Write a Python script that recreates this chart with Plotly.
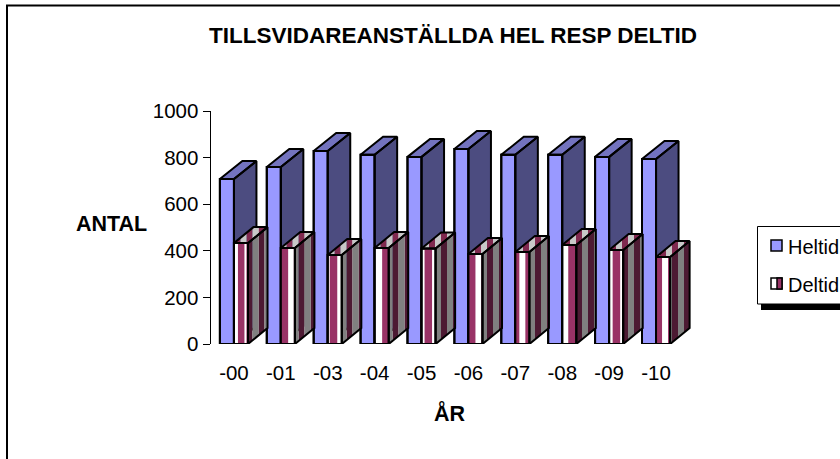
import plotly.graph_objects as go

YEARS = ["-00", "-01", "-03", "-04", "-05", "-06", "-07", "-08", "-09", "-10"]
HELTID = [708, 760, 828, 812, 803, 837, 812, 812, 803, 794]
DELTID = [433, 412, 382, 412, 410, 386, 395, 425, 403, 373]
TITLE = "TILLSVIDAREANSTÄLLDA HEL RESP DELTID"
Y_TITLE = "ANTAL"
X_TITLE = "ÅR"
Y_TICKS = [0, 200, 400, 600, 800, 1000]
SERIES_NAMES = ["Heltid", "Deltid"]

# page geometry (pixels)
W, H = 840, 459
AX_L, AX_R, AX_T, AX_B = 210.5, 679.5, 111, 344
UX = AX_R - AX_L
STEP = UX / 10
UY = (AX_B - AX_T) / 1000
px = lambda p: p / STEP          # px -> category units
py = lambda p: p / UY            # px -> value units
fx = lambda p: p / W
fy = lambda p: 1 - p / H

BAR_W = 0.3
H_DX, H_DY = px(22.5), py(18)
D_DX, D_DY = px(19.5), py(16)

# striping of the Deltid pattern, per bar, in pixels relative to the bar's left edge
FRONT_PURPLE = [[(4, 10.5), (12.5, 14)], [(0, 7.3), (13, 14)], [(2, 9.5)], [(7.5, 14)], [(3, 10.5)],
                [(0, 7), (13, 14)], [(0, 4), (10, 14)], [(6, 13)], [(3.5, 11)], [(0, 6), (12, 14)]]
# x pixel at which a dark stripe starts on the depth faces
SIDE_START = [246.5, 298.5, 346.5, 392.5, 441, 487, 535, 576, 622, 672]
SIDE_PERIOD, SIDE_BAND = 12, 6


def join(polys):
    xs, ys = [], []
    for p in polys:
        xs += [a for a, _ in p] + [p[0][0], None]
        ys += [b for _, b in p] + [p[0][1], None]
    return xs, ys


def fill(polys, color, xa, ya):
    xs, ys = join(polys)
    return go.Scatter(x=xs, y=ys, mode="lines", fill="toself", fillcolor=color, line=dict(width=0),
                      hoverinfo="skip", showlegend=False, cliponaxis=False, xaxis=xa, yaxis=ya)


def outline(polys, xa, ya, w=2):
    xs, ys = join(polys)
    return go.Scatter(x=xs, y=ys, mode="lines", line=dict(color="#000000", width=w),
                      hoverinfo="skip", showlegend=False, cliponaxis=False, xaxis=xa, yaxis=ya)


def faces(i, v, left, right, dx, dy):
    side = [(right, 0), (right + dx, dy), (right + dx, v + dy), (right, v)]
    top = [(left, v), (right, v), (right + dx, v + dy), (left + dx, v + dy)]
    front = [(left, 0), (right, 0), (right, v), (left, v)]
    return front, side, top


def top_strip(a, b, v, left, right, dx, dy):
    lo = lambda x: v if x <= right else v + dy * (x - right) / dx
    hi = lambda x: v + dy * (x - left) / dx if x <= left + dx else v + dy
    cuts = sorted({a, b} | {c for c in (right, left + dx) if a < c < b})
    return [(x, lo(x)) for x in cuts] + [(x, hi(x)) for x in reversed(cuts)]


def side_strip(a, b, v, right, dx, dy):
    return [(a, dy * (a - right) / dx), (b, dy * (b - right) / dx),
            (b, v + dy * (b - right) / dx), (a, v + dy * (a - right) / dx)]


xs_cat = list(range(len(YEARS)))
fig = go.Figure()

# Heltid
fig.add_trace(go.Bar(x=xs_cat, y=HELTID, width=BAR_W, offset=-BAR_W, name=SERIES_NAMES[0],
                     marker=dict(color="#9999FF", line=dict(color="#000000", width=2)),
                     xaxis="x", yaxis="y", showlegend=False))
h_sides, h_tops, h_all = [], [], []
for i, v in enumerate(HELTID):
    f, s, t = faces(i, v, i - BAR_W, i, H_DX, H_DY)
    h_sides.append(s)
    h_tops.append(t)
    h_all += [f, s, t]
fig.add_trace(fill(h_sides, "#4C4C80", "x", "y"))
fig.add_trace(fill(h_tops, "#7373BF", "x", "y"))
fig.add_trace(outline(h_all, "x", "y"))

# Deltid
fig.add_trace(go.Bar(x=xs_cat, y=DELTID, width=BAR_W, offset=0, name=SERIES_NAMES[1],
                     marker=dict(color="#FFFFFF", line=dict(color="#000000", width=2)),
                     xaxis="x2", yaxis="y2", showlegend=False))
front_p, side_d, side_g, top_p, top_l, d_all = [], [], [], [], [], []
for i, v in enumerate(DELTID):
    left, right = float(i), i + BAR_W
    f, s, t = faces(i, v, left, right, D_DX, D_DY)
    d_all += [f, s, t]
    for a, b in FRONT_PURPLE[i]:
        a_u, b_u = left + px(a), min(left + px(b), right)
        front_p.append([(a_u, 0), (b_u, 0), (b_u, v), (a_u, v)])
    to_u = lambda p: (p - AX_L) / STEP - 0.5
    start = SIDE_START[i]
    for k in range(-6, 6):
        for shift, is_dark in ((0, True), (SIDE_BAND, False)):
            a = start + k * SIDE_PERIOD + shift
            b = a + SIDE_BAND
            sa, sb = max(to_u(a), right), min(to_u(b), right + D_DX)
            if sb > sa:
                (side_d if is_dark else side_g).append(side_strip(sa, sb, v, right, D_DX, D_DY))
            ta, tb = max(to_u(a), left), min(to_u(b), right + D_DX)
            if tb > ta:
                (top_p if is_dark else top_l).append(top_strip(ta, tb, v, left, right, D_DX, D_DY))
fig.add_trace(fill(front_p, "#993366", "x2", "y2"))
fig.add_trace(fill(side_d, "#4D1A33", "x2", "y2"))
fig.add_trace(fill(side_g, "#808080", "x2", "y2"))
fig.add_trace(fill(top_p, "#80294F", "x2", "y2"))
fig.add_trace(fill(top_l, "#C8C8C8", "x2", "y2"))
fig.add_trace(outline(d_all, "x2", "y2"))

FONT = "Liberation Sans"
# one spare category on the right leaves room for the depth of the last bar
dom_x = [fx(AX_L), fx(AX_R + STEP)]
x_range = [-0.5, 10.5]
dom_y = [fy(AX_B), fy(AX_T)]


def note(text, x, y, size, bold=False, anchor="center"):
    return dict(text=f"<b>{text}</b>" if bold else text, x=fx(x), y=fy(y), xref="paper", yref="paper",
                showarrow=False, xanchor=anchor, yanchor="middle",
                font=dict(family=FONT, size=size, color="#000000"))


def rect(x0, y0, x1, y1, fillcolor=None, line=None, width=0):
    return dict(type="rect", xref="paper", yref="paper", x0=fx(x0), x1=fx(x1), y0=fy(y0), y1=fy(y1),
                fillcolor=fillcolor or "rgba(0,0,0,0)", line=dict(color=line or "rgba(0,0,0,0)", width=width))


shapes = [
    rect(7, 5.5, 900, 520, line="#000000", width=2),
    rect(761, 304, 900, 310, fillcolor="#000000"),
    rect(757.5, 226.5, 900, 304, fillcolor="#FFFFFF", line="#000000", width=1),
    rect(771, 240, 782, 251, fillcolor="#9999FF", line="#000000", width=1.5),
    rect(771, 278, 782, 289, fillcolor="#FFFFFF", line="#000000", width=1.5),
    rect(777, 278, 782, 289, fillcolor="#993366", line="#000000", width=1.5),
]

fig.update_layout(
    width=W, height=H, autosize=False, margin=dict(l=0, r=0, t=0, b=0, pad=0, autoexpand=False),
    paper_bgcolor="#FFFFFF", plot_bgcolor="#FFFFFF", showlegend=False,
    font=dict(family=FONT, size=20, color="#000000"),
    xaxis=dict(domain=dom_x, range=x_range, tickvals=xs_cat, ticktext=YEARS, ticks="",
               showgrid=False, zeroline=False, showline=False, ticklabelstandoff=14,
               automargin=False, tickfont=dict(family=FONT, size=20.5)),
    yaxis=dict(domain=dom_y, range=[0, 1000], tickvals=Y_TICKS, ticks="outside", ticklen=7, tickwidth=1,
               tickcolor="#000000", showgrid=False, zeroline=False, showline=True, linecolor="#000000",
               linewidth=1, automargin=False, tickfont=dict(family=FONT, size=20.5)),
    xaxis2=dict(domain=dom_x, range=x_range, overlaying="x", visible=False),
    yaxis2=dict(domain=dom_y, range=[0, 1000], overlaying="y", visible=False),
    shapes=shapes,
    annotations=[
        note(TITLE, 452.5, 36, 22.5, bold=True),
        note(Y_TITLE, 111, 224, 21.5, bold=True),
        note(X_TITLE, 450, 413, 21.5, bold=True),
        note(SERIES_NAMES[0], 786, 247, 20, anchor="left"),
        note(SERIES_NAMES[1], 786, 285, 20, anchor="left"),
    ],
)
fig.write_html("out.html", config=dict(displayModeBar=False),
               post_script="document.body.style.margin='0';document.documentElement.style.overflow='hidden';")
